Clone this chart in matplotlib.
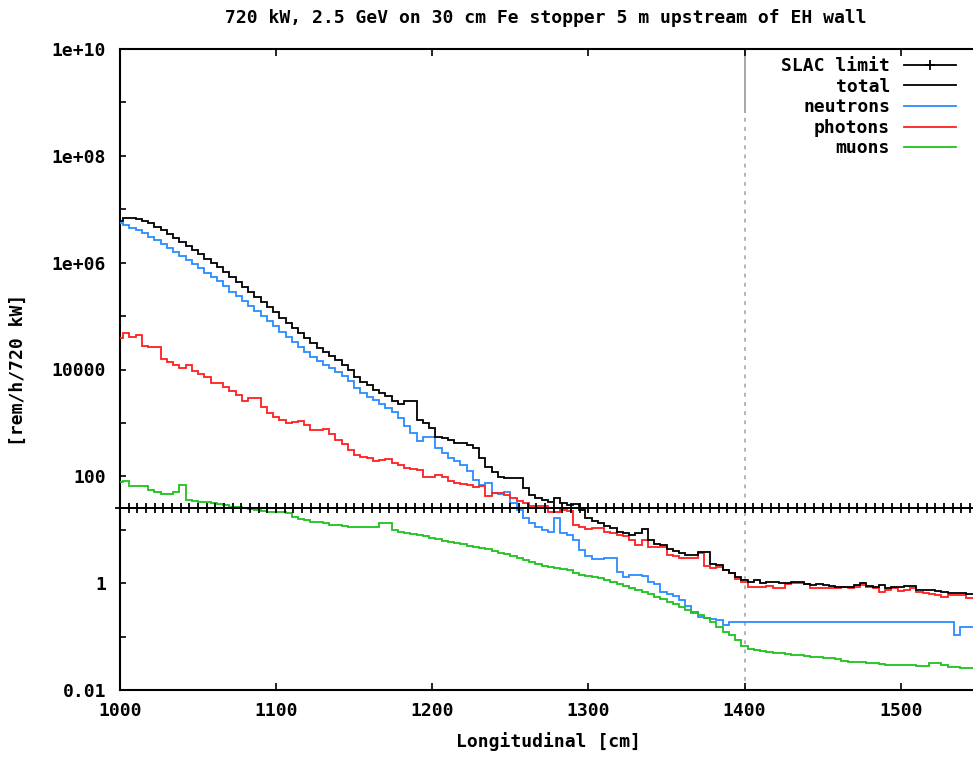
import numpy as np
import matplotlib
matplotlib.use("Agg")
import matplotlib.pyplot as plt
from matplotlib.lines import Line2D

# ---------------- data ----------------
title = "720 kW, 2.5 GeV on 30 cm Fe stopper 5 m upstream of EH wall"
xlabel = "Longitudinal [cm]"
ylabel = "[rem/h/720 kW]"

# histogram bin centres [cm], 4 cm bins
bin_centers = np.arange(1000, 1548, 4)

total = [6.0e6, 6.85e6, 6.85e6, 6.56e6, 6.0e6, 5.5e6, 4.65e6, 4.1e6, 3.44e6, 2.9e6,
         2.43e6, 2.05e6, 1.73e6, 1.45e6, 1.17e6, 9.8e5, 8.3e5, 6.7e5, 5.4e5, 4.35e5,
         3.5e5, 2.8e5, 2.3e5, 1.83e5, 1.48e5, 1.19e5, 9.2e4, 7.4e4, 6.0e4, 4.8e4,
         3.9e4, 3.1e4, 2.5e4, 2.1e4, 1.8e4, 1.5e4, 1.2e4, 9.8e3, 7.2e3, 5.8e3,
         5.1e3, 4.1e3, 3.6e3, 3.2e3, 2.57e3, 2.26e3, 2.6e3, 2.6e3, 1.13e3, 1.0e3,
         800, 545, 520, 480, 420, 420, 385, 340, 220, 149,
         120, 97, 93, 93, 93, 60, 45, 39, 36, 33,
         39, 31.7, 29, 30, 23.4, 16.6, 14.6, 13.4, 11.7, 10.8,
         9.1, 8.7, 8.0, 8.7, 10.3, 6.4, 5.4, 5.2, 4.4, 4.0,
         3.7, 3.4, 3.4, 3.8, 3.8, 2.3, 2.2, 1.76, 1.55, 1.30,
         1.15, 1.05, 1.15, 1.01, 1.05, 1.05, 1.01, 1.01, 1.05, 1.05,
         0.96, 0.925, 0.96, 0.925, 0.885, 0.85, 0.85, 0.85, 0.925, 1.01,
         0.885, 0.85, 0.925, 0.81, 0.85, 0.85, 0.885, 0.885, 0.745, 0.745,
         0.745, 0.713, 0.68, 0.655, 0.655, 0.655, 0.63]

neutrons = [5.5e6, 5.1e6, 4.5e6, 4.1e6, 3.6e6, 3.0e6, 2.65e6, 2.2e6, 1.9e6, 1.6e6,
            1.33e6, 1.12e6, 9.4e5, 7.9e5, 6.4e5, 5.4e5, 4.5e5, 3.7e5, 2.8e5, 2.4e5,
            1.9e5, 1.54e5, 1.24e5, 1.0e5, 8.1e4, 6.5e4, 5.0e4, 4.1e4, 3.3e4, 2.6e4,
            2.1e4, 1.7e4, 1.44e4, 1.21e4, 1.07e4, 9.0e3, 7.5e3, 6.1e3, 4.5e3, 3.6e3,
            3.05e3, 2.7e3, 2.26e3, 1.9e3, 1.6e3, 1.24e3, 875, 650, 460, 545,
            545, 340, 273, 220, 194, 163, 126, 85, 69, 75,
            49, 47, 51, 32, 23, 16.6, 13.4, 11.2, 9.9, 9.1,
            16.6, 8.7, 8.0, 6.4, 4.2, 3.2, 2.8, 2.8, 3.0, 3.0,
            1.62, 1.30, 1.42, 1.42, 1.36, 1.05, 0.96, 0.68, 0.63, 0.575,
            0.48, 0.37, 0.29, 0.233, 0.223, 0.213, 0.204, 0.165, 0.187, 0.187,
            0.187, 0.187, 0.187, 0.187, 0.187, 0.187, 0.187, 0.187, 0.187, 0.187,
            0.187, 0.187, 0.187, 0.187, 0.187, 0.187, 0.187, 0.187, 0.187, 0.187,
            0.187, 0.187, 0.187, 0.187, 0.187, 0.187, 0.187, 0.187, 0.187, 0.187,
            0.187, 0.187, 0.187, 0.187, 0.107, 0.151, 0.151]

photons = [3.9e4, 4.8e4, 4.06e4, 4.4e4, 2.75e4, 2.64e4, 2.64e4, 1.57e4, 1.38e4, 1.21e4,
           1.07e4, 1.21e4, 9.4e3, 8.2e3, 7.2e3, 5.6e3, 5.6e3, 4.7e3, 3.95e3, 3.33e3,
           2.57e3, 2.92e3, 2.92e3, 1.99e3, 1.53e3, 1.29e3, 1.13e3, 995, 1.04e3, 1.09e3,
           914, 736, 736, 769, 620, 479, 403, 311, 251, 230,
           220, 194, 202, 211, 177, 163, 143, 137, 131, 97,
           97, 106, 97, 82, 75, 72, 69, 63, 66, 42.8,
           48.7, 48.7, 44.7, 39.3, 34.5, 31.7, 27.8, 27.8, 27.8, 21.5,
           21.5, 23.4, 22.4, 12.3, 11.2, 10.3, 10.8, 10.8, 9.1, 8.7,
           8.0, 7.6, 6.4, 5.2, 6.4, 4.75, 4.75, 4.75, 3.37, 3.2,
           2.96, 2.96, 2.96, 3.67, 2.1, 1.92, 2.0, 1.76, 1.55, 1.2,
           1.05, 0.85, 0.85, 0.85, 0.885, 0.81, 0.81, 0.96, 1.01, 1.01,
           0.96, 0.81, 0.81, 0.81, 0.81, 0.81, 0.85, 0.81, 0.85, 0.925,
           0.85, 0.81, 0.68, 0.745, 0.81, 0.713, 0.745, 0.81, 0.68, 0.655,
           0.627, 0.60, 0.55, 0.60, 0.60, 0.60, 0.527]

muons = [78, 82, 66, 66, 66, 55.5, 50.8, 46.7, 46.7, 50.8,
         69, 36, 34.5, 33, 33, 31.7, 30.3, 29, 26.7, 26.7,
         25.5, 24.4, 23.4, 22.4, 21.5, 21.5, 21.5, 20.6, 17.3, 15.9,
         15.2, 14.0, 14.0, 13.4, 12.3, 12.3, 11.7, 11.2, 11.2, 11.2,
         11.2, 11.2, 13.4, 13.4, 9.9, 9.1, 8.7, 8.3, 8.0, 7.6,
         7.0, 6.7, 6.15, 5.9, 5.65, 5.4, 4.96, 4.75, 4.55, 4.36,
         4.0, 3.67, 3.52, 3.2, 2.96, 2.71, 2.49, 2.28, 2.1, 2.0,
         1.92, 1.84, 1.76, 1.55, 1.42, 1.36, 1.30, 1.25, 1.15, 1.05,
         0.96, 0.885, 0.81, 0.745, 0.68, 0.63, 0.55, 0.505, 0.443, 0.407,
         0.358, 0.315, 0.276, 0.254, 0.223, 0.187, 0.151, 0.122, 0.107, 0.0863,
         0.0667, 0.0585, 0.0561, 0.0537, 0.0514, 0.0493, 0.0493, 0.0472, 0.0452, 0.0452,
         0.0432, 0.0415, 0.0415, 0.0397, 0.0397, 0.038, 0.0349, 0.0334, 0.0334, 0.0334,
         0.032, 0.032, 0.0307, 0.0294, 0.0294, 0.0294, 0.0294, 0.0294, 0.0281, 0.0281,
         0.032, 0.032, 0.0294, 0.0269, 0.0269, 0.0258, 0.0258]

slac_limit = 25.0          # rem/h
slac_samples = 100         # sample points of the limit curve
wall_x = 1400.0            # EH wall position [cm]
wall_solid_top = 6.6e8     # where the solid part of the marker line ends

xlim = (1000, 1550)
ylim = (0.01, 1e10)
xticks = [1000, 1100, 1200, 1300, 1400, 1500]
yticks_labeled = [1e-2, 1, 100, 1e4, 1e6, 1e8, 1e10]
ytick_labels = ["0.01", "1", "100", "10000", "1e+06", "1e+08", "1e+10"]
yticks_minor = [1e-1, 10, 1e3, 1e5, 1e7, 1e9]

legend_labels = ["SLAC limit", "total", "neutrons", "photons", "muons"]
colors = {"total": "#000000", "neutrons": "#2a8cff", "photons": "#ff2020", "muons": "#1fc21f"}

# ---------------- plotting ----------------
W, H, DPI = 973, 758, 100
fig = plt.figure(figsize=(W / DPI, H / DPI), dpi=DPI)
FONT = "DejaVu Sans Mono"
FS = 13

# axes placed in pixel coordinates (right edge of frame is cropped in reference)
left_px, right_px, top_px, bot_px = 120, 978.8, 49, 690
ax = fig.add_axes([left_px / W, 1 - bot_px / H, (right_px - left_px) / W, (bot_px - top_px) / H])
ax.set_yscale("log")
ax.set_xlim(*xlim)
ax.set_ylim(*ylim)

edges = np.append(bin_centers - 2, bin_centers[-1] + 2)
lw = 1.3

# SLAC limit
xs = np.linspace(xlim[0], xlim[1], slac_samples)
ax.plot(xs, np.full_like(xs, slac_limit), color="black", lw=lw, marker="+",
        markersize=7.5, markeredgewidth=1.3, clip_on=False, zorder=5)

# EH wall marker line
ax.plot([wall_x, wall_x], [ylim[0], wall_solid_top], color="#a0a0a0", lw=1.1,
        linestyle=(0, (2.5, 3.5)), zorder=1)
ax.plot([wall_x, wall_x], [wall_solid_top, ylim[1]], color="#a0a0a0", lw=1.3, zorder=1)

ax.stairs(total, edges, baseline=None, color=colors["total"], lw=lw, zorder=4)
ax.stairs(neutrons, edges, baseline=None, color=colors["neutrons"], lw=lw, zorder=3)
ax.stairs(photons, edges, baseline=None, color=colors["photons"], lw=lw, zorder=3)
ax.stairs(muons, edges, baseline=None, color=colors["muons"], lw=lw, zorder=3)

# legend (line handles)
handles = [Line2D([], [], color="black", lw=lw, marker="+", markersize=7.5, markeredgewidth=1.3),
           Line2D([], [], color=colors["total"], lw=lw),
           Line2D([], [], color=colors["neutrons"], lw=lw),
           Line2D([], [], color=colors["photons"], lw=lw),
           Line2D([], [], color=colors["muons"], lw=lw)]
ax.legend(handles, legend_labels, loc="upper right",
          bbox_to_anchor=(956 / W, 1 - 57 / H), bbox_transform=fig.transFigure,
          frameon=False, markerfirst=False, handlelength=2.9, handletextpad=0.75,
          labelspacing=0.145, borderpad=0, borderaxespad=0,
          prop={"family": FONT, "weight": "bold", "size": FS})

# ticks
ax.set_xticks(xticks)
ax.set_xticklabels([str(t) for t in xticks], fontfamily=FONT, fontweight="bold", fontsize=FS)
ax.set_yticks(yticks_labeled)
ax.set_yticklabels(ytick_labels, fontfamily=FONT, fontweight="bold", fontsize=FS)
ax.set_yticks(yticks_minor, minor=True)
ax.yaxis.set_minor_formatter(matplotlib.ticker.NullFormatter())
ax.xaxis.set_minor_locator(matplotlib.ticker.NullLocator())
ax.tick_params(axis="x", which="major", direction="in", length=5, width=1.2, top=True, pad=9)
ax.tick_params(axis="y", which="major", direction="in", length=4.5, width=1.2, right=True, pad=10)
ax.tick_params(axis="y", which="minor", direction="in", length=4.5, width=1.2, right=True)
for s in ax.spines.values():
    s.set_linewidth(1.5)

fig.text(546 / W, 1 - 18 / H, title, ha="center", va="center",
         fontfamily=FONT, fontweight="bold", fontsize=FS)
fig.text(548 / W, 1 - 742 / H, xlabel, ha="center", va="center",
         fontfamily=FONT, fontweight="bold", fontsize=FS)
fig.text(18 / W, 1 - 370 / H, ylabel, ha="center", va="center", rotation=90,
         fontfamily=FONT, fontweight="bold", fontsize=FS)

fig.savefig("out.png", dpi=DPI)
